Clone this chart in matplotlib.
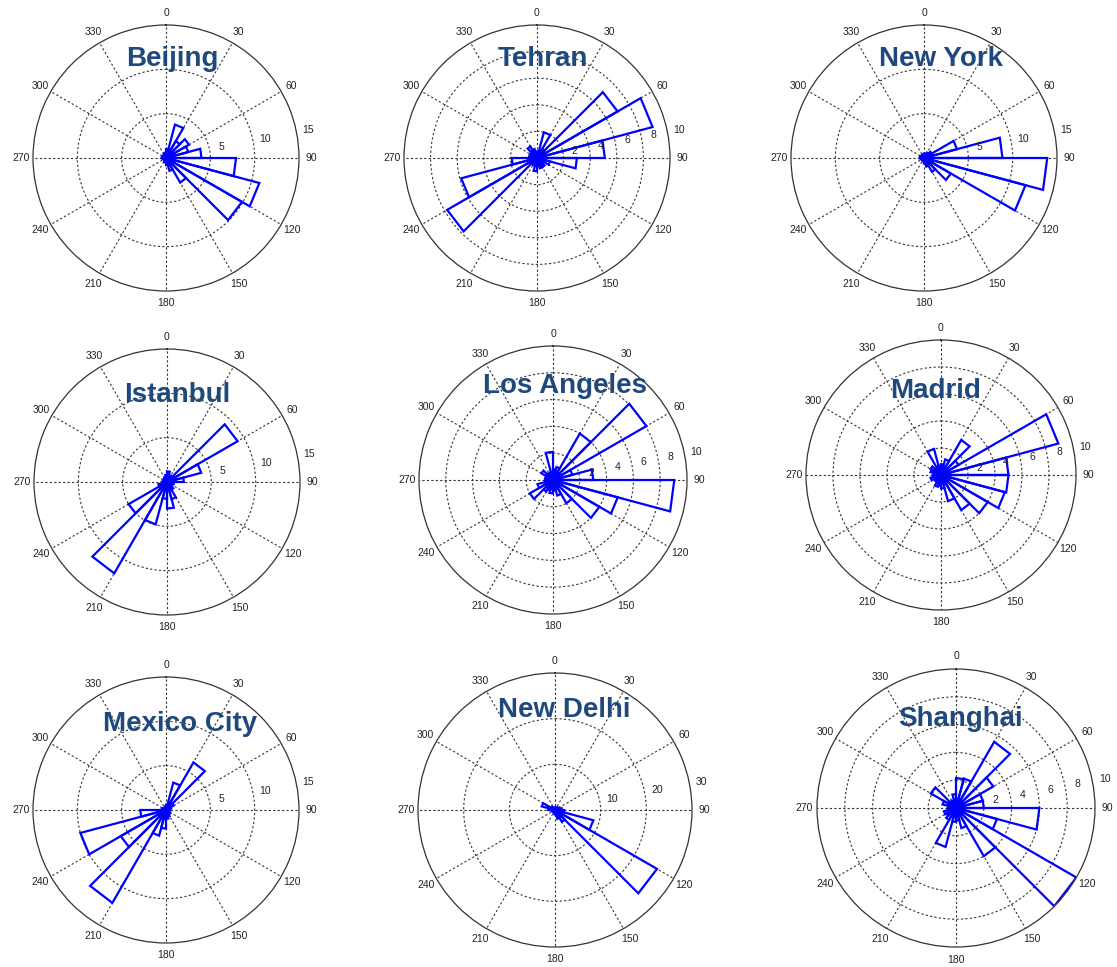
import numpy as np
import matplotlib.pyplot as plt

plt.rcParams['font.family'] = ['Liberation Sans', 'DejaVu Sans']

# city names and radial ticks (outer ring = last tick)
cities = ['Beijing', 'Tehran', 'New York',
          'Istanbul', 'Los Angeles', 'Madrid',
          'Mexico City', 'New Delhi', 'Shanghai']
rticks = [[5, 10, 15], [2, 4, 6, 8, 10], [5, 10, 15],
          [5, 10, 15], [2, 4, 6, 8, 10], [2, 4, 6, 8, 10],
          [5, 10, 15], [10, 20, 30], [2, 4, 6, 8, 10]]

# counts per 15 degree bin, starting at 0 (north) going clockwise
beijing = [1.0, 3.9, 2.2, 3.0, 2.6, 4.0, 7.9, 10.9, 9.9, 3.2, 1.5, 0.8,
           0.5, 0.4, 0.3, 0.3, 0.3, 0.4, 0.5, 0.4, 0.3, 0.4, 0.5, 0.6]
tehran = [0.5, 2.0, 0.8, 7.0, 9.0, 5.1, 3.0, 1.0, 0.6, 0.8, 0.8, 0.5,
          1.0, 0.5, 0.6, 7.8, 5.9, 1.9, 0.6, 0.5, 0.6, 1.0, 0.7, 0.4]
new_york = [0.5, 0.5, 0.7, 1.0, 3.85, 8.85, 13.9, 11.85, 3.5, 1.8, 1.0, 0.6,
            0.4, 0.3, 0.3, 0.3, 0.3, 0.4, 0.5, 0.4, 0.3, 0.3, 0.4, 0.4]
istanbul = [1.2, 0.8, 0.8, 9.2, 4.0, 1.9, 0.8, 0.6, 0.7, 1.0, 2.0, 3.0,
            1.9, 4.95, 11.9, 5.0, 1.0, 0.6, 0.5, 0.4, 0.4, 0.5, 0.6, 0.8]
los_angeles = [0.8, 1.0, 4.0, 8.05, 1.5, 3.0, 9.05, 5.0, 4.0, 2.0, 1.2, 0.8,
               1.0, 0.8, 1.0, 2.0, 1.2, 0.6, 0.5, 0.6, 1.0, 0.6, 0.5, 2.1]
madrid = [0.8, 1.2, 3.0, 1.5, 9.0, 5.0, 5.0, 4.9, 4.0, 3.0, 2.0, 1.0,
          0.8, 0.9, 0.6, 0.6, 0.8, 0.6, 0.5, 0.8, 0.9, 0.6, 2.0, 0.7]
mexico_city = [0.6, 3.2, 6.2, 1.0, 0.6, 0.4, 0.4, 0.4, 0.5, 0.6, 0.8, 1.0,
               2.1, 3.0, 12.1, 5.9, 10.0, 2.9, 0.5, 0.4, 0.3, 0.3, 0.3, 0.4]
new_delhi = [0.5, 0.5, 0.6, 0.8, 1.0, 1.5, 2.0, 8.7, 25.8, 3.0, 2.0, 1.0,
             0.8, 0.6, 0.5, 0.5, 0.6, 0.8, 1.5, 3.0, 1.0, 0.6, 0.5, 0.5]
shanghai = [2.15, 2.2, 5.5, 3.1, 2.0, 2.0, 6.0, 3.05, 10.0, 4.0, 1.5, 0.9,
            1.0, 2.9, 1.0, 0.8, 0.9, 0.6, 0.5, 1.0, 2.1, 0.6, 0.5, 1.0]
counts = [beijing, tehran, new_york, istanbul, los_angeles, madrid,
          mexico_city, new_delhi, shanghai]

W, H = 1117, 967
# panel centre (px), radius (px), title offset (px: dx, baseline dy)
centres = [(166, 158), (537, 158), (924, 158),
           (167, 482), (553, 480), (941, 475),
           (166, 810), (555, 810), (956, 808)]
radii = [133, 133, 133, 133, 134, 135, 133, 137, 139]
title_off = [(6, -92), (6, -92), (17, -92),
             (10, -80), (12, -87), (-5, -77),
             (14, -79), (9, -93), (4, -82)]

fig = plt.figure(figsize=(W / 100, H / 100), dpi=100)

edges = np.deg2rad(np.arange(0, 361, 15))
grid_col = '#333333'

for k, city in enumerate(cities):
    cx, cy = centres[k]
    R = radii[k]
    ax = fig.add_axes([(cx - R) / W, 1 - (cy + R) / H, 2 * R / W, 2 * R / H],
                      projection='polar')
    ax.set_theta_zero_location('N')
    ax.set_theta_direction(-1)
    rmax = rticks[k][-1]
    ax.set_ylim(0, rmax)
    ax.set_xticks(np.deg2rad(np.arange(0, 360, 30)))
    ax.set_xticklabels([])
    ax.set_yticks(rticks[k][:-1])
    ax.set_yticklabels([])
    ax.grid(True, color=grid_col, linestyle=(0, (2, 2)), linewidth=0.8)
    ax.tick_params(axis='x', length=0)
    ax.spines['polar'].set_color('#333333')
    ax.spines['polar'].set_linewidth(0.9)
    ax.set_facecolor('white')

    # rose petals
    for i, v in enumerate(counts[k]):
        ax.plot([0, edges[i], edges[i + 1], 0], [0, v, v, 0],
                color='#0000FF', linewidth=1.6, solid_joinstyle='miter')

    # angle labels
    for a in range(0, 360, 30):
        ax.text(np.deg2rad(a), rmax * 1.09, str(a), fontsize=7.5,
                ha='center', va='center', color='#222222')
    # radial labels
    for t in rticks[k]:
        ax.text(np.deg2rad(79), t + 0.09 * rmax, str(t), fontsize=7.5,
                ha='center', va='center', color='#222222')

    dx, dy = title_off[k]
    fig.text((cx + dx) / W, 1 - (cy + dy) / H, city, fontsize=20,
             fontweight='bold', color='#1F497D', ha='center', va='baseline')

fig.savefig('out.png', dpi=100)
